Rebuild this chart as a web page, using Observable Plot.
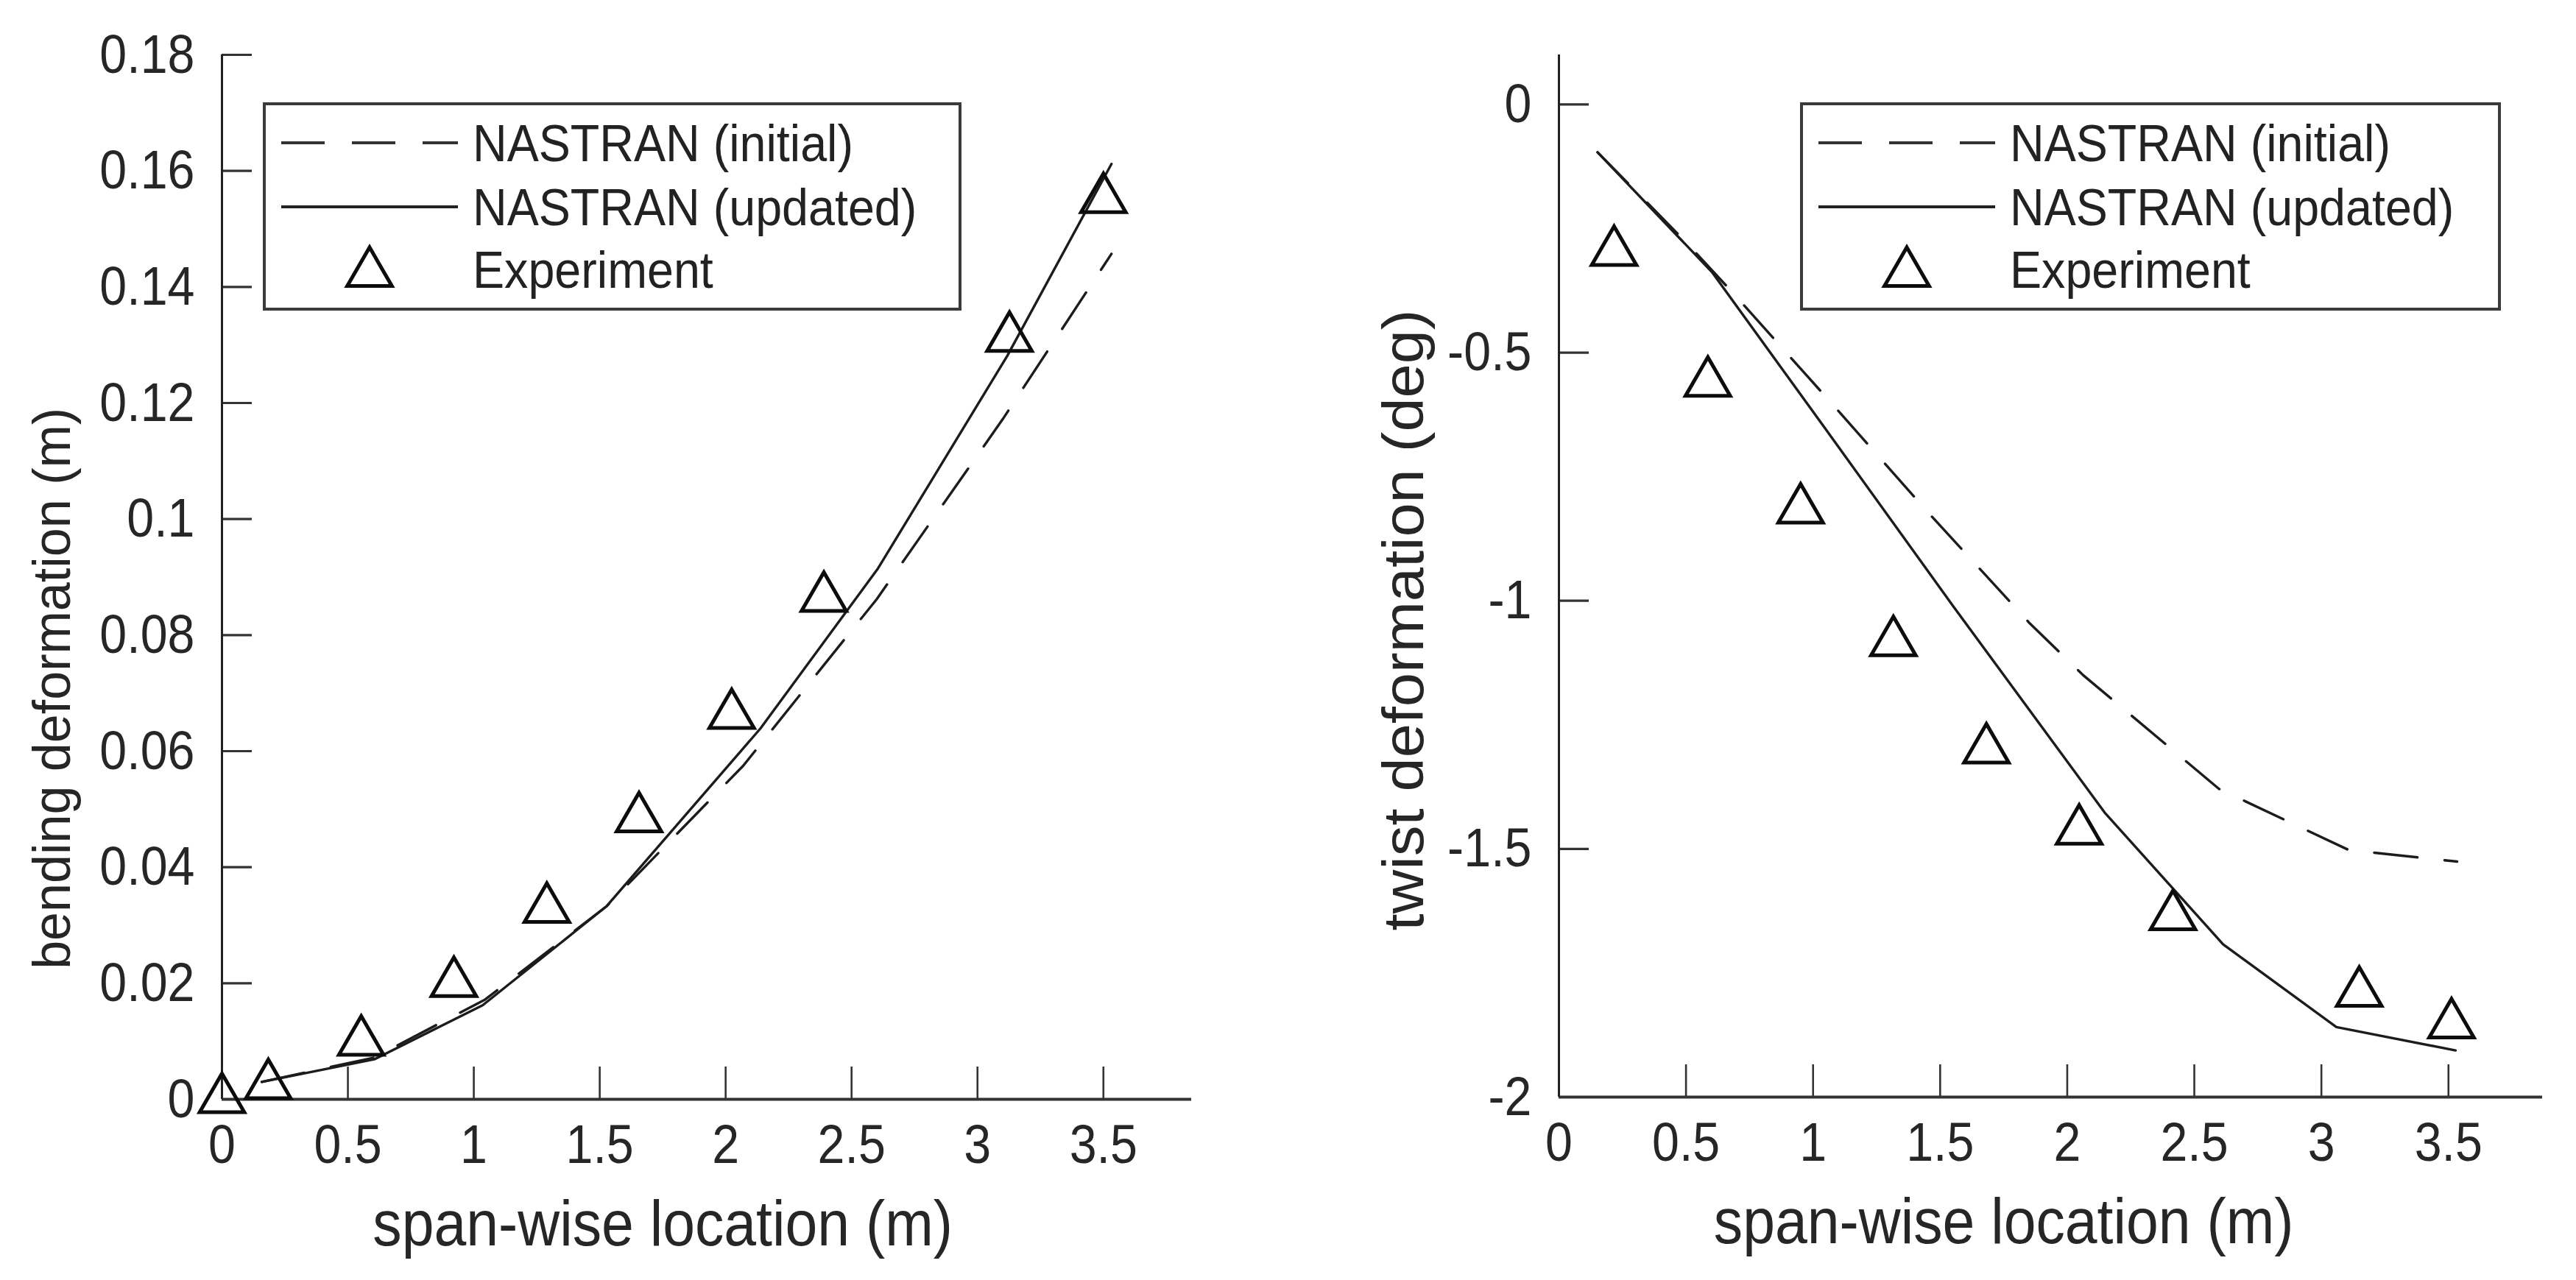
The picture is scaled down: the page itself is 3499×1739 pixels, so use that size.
<!DOCTYPE html>
<html><head><meta charset="utf-8">
<script src="https://cdn.jsdelivr.net/npm/d3@7"></script>
<script src="https://cdn.jsdelivr.net/npm/@observablehq/plot@0.6"></script>
<style>
html,body{margin:0;padding:0;background:#fff;width:3499px;height:1739px;overflow:hidden}
#wrap{position:relative;width:3499px;height:1739px;font-family:"Liberation Sans",Arial,sans-serif;color:#222}
#wrap svg.chart{position:absolute;top:0;overflow:visible;background:transparent}
.legend{position:absolute;top:139px;height:283px;box-sizing:border-box;border:4px solid #3a3a3a;background:#fff}
.legend .lab{position:absolute;font-size:71px;line-height:71px;white-space:nowrap;transform:scaleX(.91);transform-origin:left center}
.legend svg{position:absolute;left:0;top:0;overflow:visible}
</style></head><body><div id="wrap"></div>
<script>
const legendLabels = ["NASTRAN (initial)", "NASTRAN (updated)", "Experiment"];
const xLabel = "span-wise location (m)";
const xTicks = [0, 0.5, 1, 1.5, 2, 2.5, 3, 3.5];

const bendYTicks = [0, 0.02, 0.04, 0.06, 0.08, 0.1, 0.12, 0.14, 0.16, 0.18];
const bendLabel = "bending deformation (m)";
const bendInitX = [0.158, 0.605, 1.045, 1.528, 2.07, 2.6, 3.1, 3.532];
const bendInitY = [0.003, 0.0072, 0.0172, 0.0333, 0.0575, 0.0862, 0.1172, 0.1457];
const bendUpdX = [0.158, 0.605, 1.035, 1.528, 2.138, 2.605, 3.118, 3.532];
const bendUpdY = [0.003, 0.0069, 0.0162, 0.0333, 0.0639, 0.0915, 0.1281, 0.1612];
const bendExpX = [0, 0.184, 0.553, 0.921, 1.29, 1.656, 2.024, 2.39, 3.127, 3.5];
const bendExpY = [0, 0.0024, 0.0099, 0.02, 0.0328, 0.0484, 0.0662, 0.0864, 0.1312, 0.1551];

const twistYTicks = [-2, -1.5, -1, -0.5, 0];
const twistLabel = "twist deformation (deg)";
const twistInitX = [0.152, 0.489, 0.683, 1.071, 1.459, 1.853, 2.063, 2.597, 3.107, 3.534];
const twistInitY = [-0.0963, -0.2717, -0.3788, -0.601, -0.8257, -1.0457, -1.15, -1.379, -1.502, -1.5255];
const twistUpdX = [0.152, 0.602, 1.038, 1.55, 2.147, 2.613, 3.059, 3.528];
const twistUpdY = [-0.0963, -0.3376, -0.646, -1.01, -1.4265, -1.692, -1.859, -1.906];
const twistExpX = [0.217, 0.586, 0.951, 1.316, 1.682, 2.047, 2.416, 3.149, 3.512];
const twistExpY = [-0.2975, -0.561, -0.8165, -1.084, -1.3, -1.4635, -1.636, -1.79, -1.854];

const ink = "#1c1c1c";
const zip = (xs, ys) => xs.map((x, i) => ({x, y: ys[i]}));

function chart(o) {
  const font = {fontFamily: "Liberation Sans, Arial, sans-serif", fill: "#262626"};
  const svg = Plot.plot({
    width: o.width, height: 1739,
    marginLeft: o.ml, marginRight: o.mr, marginTop: 74, marginBottom: o.mb,
    style: {background: "transparent", overflow: "visible"},
    x: {domain: [0, o.xMax], ticks: xTicks, label: null},
    y: {domain: o.yDomain, ticks: o.yTicks, label: null},
    marks: [
      Plot.axisX(xTicks, {anchor: "bottom", tickSize: -44, strokeWidth: 2.6, stroke: "#333", text: null, label: null}),
      Plot.axisY(o.yTicks, {anchor: "left", tickSize: -41, strokeWidth: 3.2, stroke: "#333", text: null, label: null}),
      Plot.axisX(xTicks, {anchor: "bottom", tickSize: 0, tickPadding: 33, fontSize: 75, ...font, tickFormat: String, label: null, className: "tick"}),
      Plot.axisY(o.yTicks, {anchor: "left", tickSize: 0, tickPadding: 37, fontSize: 75, ...font, tickFormat: String, label: null, className: "tick"}),
      Plot.ruleY([o.yDomain[0]], {stroke: "#333", strokeWidth: 4}),
      Plot.ruleX([0], {stroke: "#222", strokeWidth: 3}),
      Plot.line(o.init, {x: "x", y: "y", stroke: ink, strokeWidth: 3.4, strokeDasharray: "59 37", curve: "linear"}),
      Plot.line(o.upd, {x: "x", y: "y", stroke: ink, strokeWidth: 3.4, curve: "linear"}),
      Plot.dot(o.exp, {x: "x", y: "y", symbol: "triangle", r: 22.5, stroke: "#0c0c0c", strokeWidth: 5, fill: "none"}),
      Plot.text([xLabel], {x: [1.75], frameAnchor: "bottom", dy: 198, fontSize: 87, ...font, className: "xlab"}),
      Plot.text([o.yLabel], {y: [o.yLabelAt], frameAnchor: "left", textAnchor: "middle", dx: -o.yLabelDx, rotate: -90, fontSize: o.yLabelSize, ...font, className: "ylab"})
    ]
  });
  svg.classList.add("chart");
  svg.style.left = o.left + "px";
  svg.querySelectorAll(".ylab text").forEach(t => t.dataset.len = o.yLabelLen);
  return svg;
}

function legend(left, width) {
  const box = d3.create("div").attr("class", "legend")
    .style("left", left + "px").style("width", width + "px");
  const s = box.append("svg").attr("width", width).attr("height", 283);
  const rows = [51, 138, 223];
  s.append("line").attr("x1", 21).attr("x2", 261).attr("y1", rows[0]).attr("y2", rows[0])
    .attr("stroke", "#333").attr("stroke-width", 4).attr("stroke-dasharray", "59 37");
  s.append("line").attr("x1", 21).attr("x2", 261).attr("y1", rows[1]).attr("y2", rows[1])
    .attr("stroke", "#222").attr("stroke-width", 4);
  s.append("path").attr("d", d3.symbol(d3.symbolTriangle, Math.PI * 22.5 * 22.5)())
    .attr("transform", `translate(141,${rows[2] + 5})`)
    .attr("fill", "none").attr("stroke", "#0c0c0c").attr("stroke-width", 5);
  legendLabels.forEach((t, i) => {
    box.append("div").attr("class", "lab").style("left", "281px")
      .style("top", (rows[i] - 35) + "px").text(t);
  });
  return box.node();
}

const wrap = document.getElementById("wrap");
const left = chart({
  left: 0, width: 1750, ml: 301, mr: 132, mb: 246, xMax: 3.85,
  yDomain: [0, 0.18], yTicks: bendYTicks, yLabel: bendLabel, yLabelAt: 0.0708, yLabelDx: 230,
  yLabelSize: 72, yLabelLen: 763,
  init: zip(bendInitX, bendInitY), upd: zip(bendUpdX, bendUpdY), exp: zip(bendExpX, bendExpY)
});
const right = chart({
  left: 1750, width: 1749, ml: 367, mr: 46, mb: 249, xMax: 3.87,
  yDomain: [-2, 0.1], yTicks: twistYTicks, yLabel: twistLabel, yLabelAt: -1.039, yLabelDx: 209,
  yLabelSize: 78, yLabelLen: 844,
  init: zip(twistInitX, twistInitY), upd: zip(twistUpdX, twistUpdY), exp: zip(twistExpX, twistExpY)
});
wrap.append(left, right, legend(357, 949), legend(2445, 952));

// condensed look of the horizontal text; the axis titles take their measured length
wrap.querySelectorAll("svg.chart text").forEach(t => {
  const len = t.getComputedTextLength();
  if (!(len > 0)) return;
  const target = t.dataset.len ? +t.dataset.len : len * (t.closest(".xlab") ? 0.905 : 0.885);
  t.setAttribute("textLength", target);
  t.setAttribute("lengthAdjust", "spacingAndGlyphs");
});
</script></body></html>
